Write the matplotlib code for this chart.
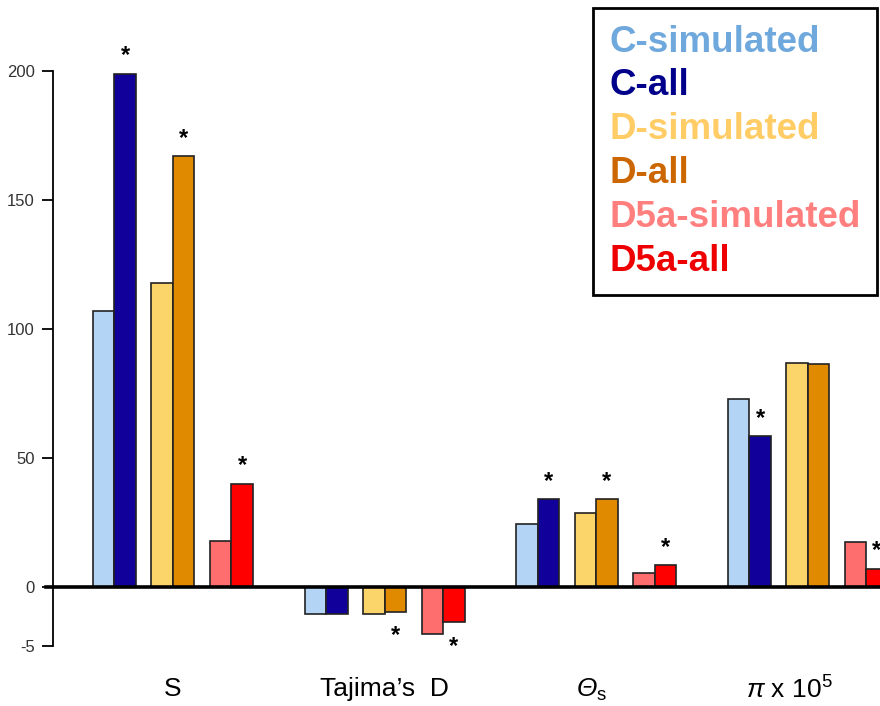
import numpy as np
import matplotlib.pyplot as plt
from matplotlib.patches import Patch

plt.rcParams['font.family'] = ['Liberation Sans', 'DejaVu Sans']
plt.rcParams['axes.unicode_minus'] = False
plt.rcParams['mathtext.fontset'] = 'custom'
plt.rcParams['mathtext.rm'] = 'Liberation Sans'
plt.rcParams['mathtext.it'] = 'Liberation Sans:italic'
plt.rcParams['mathtext.sf'] = 'Liberation Sans:italic'

groups = ['S', 'Tajima\u2019s  D', r'$\mathsf{Θ}_{\mathrm{s}}$', r'$\mathsf{π}$ x 10$^5$']
series = ['C-simulated', 'C-all', 'D-simulated', 'D-all', 'D5a-simulated', 'D5a-all']

# one row per group, one column per series
values = np.array([
    [107, 199, 118, 167, 18, 40],
    [-2.3, -2.3, -2.3, -2.1, -4.0, -3.0],
    [24.5, 34, 28.7, 34, 5.4, 8.5],
    [73, 58.5, 87, 86.5, 17.5, 7],
])
# significance stars
stars = np.array([
    [0, 1, 0, 1, 0, 1],
    [0, 0, 0, 1, 0, 1],
    [0, 1, 0, 1, 0, 1],
    [0, 1, 0, 0, 0, 1],
])

bar_colors = ['#B4D4F6', '#12009A', '#FCD56A', '#E08A00', '#FF6E6E', '#FF0000']
text_colors = ['#6FA8DC', '#00008B', '#FFCC66', '#CC6600', '#FF7F7F', '#EE0000']

# negative part of the axis is stretched
k = 4.57
def fwd(y):
    y = np.asarray(y, dtype=float)
    return np.where(y < 0, y * k, y)

def inv(y):
    y = np.asarray(y, dtype=float)
    return np.where(y < 0, y / k, y)

fig = plt.figure(figsize=(8.8, 7.06), dpi=100)
ax = fig.add_axes([53 / 880, 1 - 646 / 706, 1 - 53 / 880, (646 - 71) / 706])
ax.set_yscale('function', functions=(fwd, inv))

group_step = 9.84
pair_step = 2.72
centers = []
for g in range(len(groups)):
    for j in range(len(series)):
        x = g * group_step + (j // 2) * pair_step + (j % 2) * 1.0
        v = values[g, j]
        ax.bar(x, v, width=1.0, align='edge', color=bar_colors[j],
               edgecolor='#222222', linewidth=1.2, zorder=2)
        if stars[g, j]:
            off = 13 if v > 0 else -17
            ax.annotate('*', (x + 0.5, v), xytext=(0, off), textcoords='offset points',
                        ha='center', va='center', fontsize=17, fontweight='bold',
                        annotation_clip=False)
    centers.append(g * group_step + pair_step + 1.0)

ax.axhline(0, xmin=-0.008, xmax=1, color='black', linewidth=2.6, zorder=3, clip_on=False)

ax.set_xlim(-1.86, 36.6)
ax.set_ylim(-5, 200)
ax.set_yticks([-5, 0, 50, 100, 150, 200])
ax.tick_params(axis='y', length=8, width=1.3, pad=5, labelsize=12, labelcolor='#333333')

label_x = list(centers)
label_x[2] -= 0.2
label_x[3] -= 0.85
ax.set_xticks(label_x)
ax.set_xticklabels(groups, fontsize=19)
ax.tick_params(axis='x', length=0, pad=22)

for s in ['top', 'right', 'bottom']:
    ax.spines[s].set_visible(False)
ax.spines['left'].set_linewidth(1.3)

handles = [Patch(facecolor='none', edgecolor='none') for _ in series]
leg = ax.legend(handles, series, loc='upper right', bbox_to_anchor=(877 / 880, 1 - 8 / 706),
                bbox_transform=fig.transFigure, borderaxespad=0, handlelength=0,
                handletextpad=0, fancybox=False, framealpha=1, edgecolor='black',
                prop={'weight': 'bold', 'size': 26.5}, labelspacing=0.24, borderpad=0.45)
leg.get_frame().set_linewidth(2)
for t, c in zip(leg.get_texts(), text_colors):
    t.set_color(c)

fig.savefig('out.png', dpi=100)
